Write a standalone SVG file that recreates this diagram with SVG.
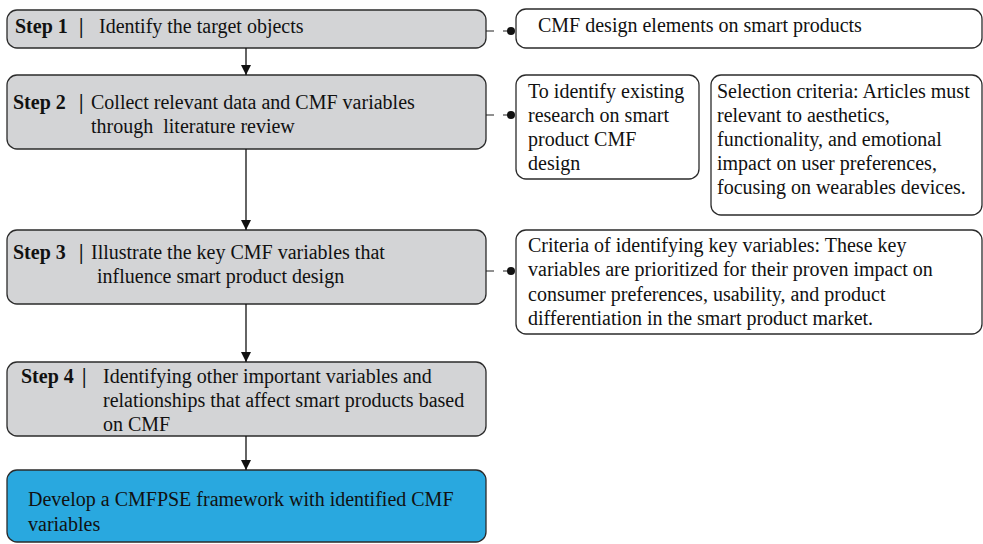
<svg xmlns="http://www.w3.org/2000/svg" width="983" height="544" viewBox="0 0 983 544">
  <defs>
    <marker id="arrow" markerWidth="10" markerHeight="10" refX="10" refY="5" orient="auto" markerUnits="userSpaceOnUse">
      <path d="M0,0 L10,5 L0,10 Z" fill="#111"/>
    </marker>
    <style>
      .step { fill: #d3d4d6; stroke: #2b2b2b; stroke-width: 1.3; }
      .final { fill: #29a8df; stroke: #2b2b2b; stroke-width: 1.3; }
      .note { fill: #ffffff; stroke: #2b2b2b; stroke-width: 1.3; }
      text { font-family: "Liberation Serif", "Times New Roman", serif; font-size: 20px; fill: #111; }
      .b { font-weight: bold; }
      .flow { stroke: #111; stroke-width: 1.3; fill: none; }
      .link { stroke: #222; stroke-width: 1.2; fill: none; stroke-dasharray: 8 9; }
      .dot { fill: #111; }
    </style>
  </defs>

  <!-- main process steps -->
  <g id="step1">
    <rect class="step" x="7" y="10" width="479" height="38" rx="10"/>
    <text x="15" y="33" class="b">Step 1</text>
    <text x="79" y="33" class="b">|</text>
    <text x="99" y="33">Identify the target objects</text>
  </g>

  <g id="step2">
    <rect class="step" x="7" y="75" width="479" height="74" rx="10"/>
    <text x="13" y="109" class="b">Step 2</text>
    <text x="79" y="109" class="b">|</text>
    <text x="91" y="109">Collect relevant data and CMF variables</text>
    <text x="91" y="133" xml:space="preserve">through  literature review</text>
  </g>

  <g id="step3">
    <rect class="step" x="7" y="230" width="479" height="74" rx="10"/>
    <text x="13" y="259" class="b">Step 3</text>
    <text x="79" y="259" class="b">|</text>
    <text x="91" y="259">Illustrate the key CMF variables that</text>
    <text x="97" y="283">influence smart product design</text>
  </g>

  <g id="step4">
    <rect class="step" x="7" y="362" width="479" height="74" rx="10"/>
    <text x="21" y="383" class="b">Step 4</text>
    <text x="82" y="383" class="b">|</text>
    <text x="103" y="383">Identifying other important variables and</text>
    <text x="103" y="407">relationships that affect smart products based</text>
    <text x="103" y="431">on CMF</text>
  </g>

  <g id="framework">
    <rect class="final" x="7" y="470" width="479" height="72" rx="10"/>
    <text x="28" y="506">Develop a CMFPSE framework with identified CMF</text>
    <text x="28" y="531">variables</text>
  </g>

  <!-- side notes -->
  <g id="note1">
    <rect class="note" x="516" y="9" width="466" height="39" rx="10"/>
    <text x="538" y="32">CMF design elements on smart products</text>
  </g>

  <g id="note2a">
    <rect class="note" x="516" y="75" width="183" height="104" rx="10"/>
    <text x="528" y="98">To identify existing</text>
    <text x="528" y="122">research on smart</text>
    <text x="528" y="146">product CMF</text>
    <text x="528" y="170">design</text>
  </g>

  <g id="note2b">
    <rect class="note" x="711" y="75" width="271" height="140" rx="10"/>
    <text x="717" y="98">Selection criteria: Articles must</text>
    <text x="717" y="122">relevant to aesthetics,</text>
    <text x="717" y="146">functionality, and emotional</text>
    <text x="717" y="170">impact on user preferences,</text>
    <text x="717" y="194">focusing on wearables devices.</text>
  </g>

  <g id="note3">
    <rect class="note" x="516" y="230" width="466" height="104" rx="10"/>
    <text x="528" y="252">Criteria of identifying key variables: These key</text>
    <text x="528" y="276">variables are prioritized for their proven impact on</text>
    <text x="528" y="301">consumer preferences, usability, and product</text>
    <text x="528" y="325">differentiation in the smart product market.</text>
  </g>

  <!-- connectors -->
  <g id="connectors">
    <line class="flow" x1="246" y1="48" x2="246" y2="75" marker-end="url(#arrow)"/>
    <line class="flow" x1="246" y1="149" x2="246" y2="230" marker-end="url(#arrow)"/>
    <line class="flow" x1="246" y1="304" x2="246" y2="362" marker-end="url(#arrow)"/>
    <line class="flow" x1="246" y1="436" x2="246" y2="470" marker-end="url(#arrow)"/>

    <line class="link" x1="486" y1="31" x2="511" y2="31"/>
    <circle class="dot" cx="511" cy="31" r="4"/>
    <line class="link" x1="486" y1="115" x2="511" y2="115"/>
    <circle class="dot" cx="511" cy="115" r="4"/>
    <line class="link" x1="486" y1="271" x2="511" y2="271"/>
    <circle class="dot" cx="511" cy="271" r="4"/>
  </g>
</svg>
